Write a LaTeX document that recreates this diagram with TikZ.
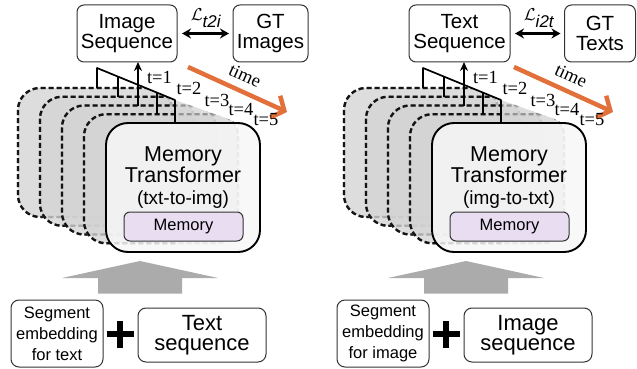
\documentclass[tikz,border=0pt]{standalone}
\usepackage{fontspec}
\setmainfont{Liberation Sans}
\newfontfamily\serifface{Liberation Serif}
\usetikzlibrary{arrows.meta}

\definecolor{timeorange}{HTML}{E2703A}
\definecolor{blockgray}{HTML}{ABABAB}
\definecolor{memfill}{HTML}{E9DDF1}
\definecolor{edgegray}{HTML}{333333}

\tikzset{
  every node/.style={inner sep=0pt, outer sep=0pt},
  labelbox/.style={draw=edgegray, line width=1pt, rounded corners=7pt, fill=white,
    align=center, minimum height=57pt, font=\fontsize{20.5}{20}\selectfont},
  inbox/.style={draw=edgegray, line width=1pt, rounded corners=8pt, fill=white, align=center},
  stackfill/.style={fill=black!17, fill opacity=0.8, rounded corners=22pt},
  stackline/.style={line width=2.3pt, dash pattern=on 5pt off 3pt, rounded corners=22pt},
  mainbox/.style={draw=black, line width=1.9pt, fill=black!3, fill opacity=0.85,
    rounded corners=22pt, minimum width=154pt, minimum height=129pt},
  memorybox/.style={draw=edgegray, line width=1pt, fill=memfill, rounded corners=6pt,
    minimum width=119pt, minimum height=29pt, font=\fontsize{16.5}{16}\selectfont},
  tickline/.style={line width=1.7pt},
  lossarrow/.style={line width=2.2pt, arrows={Stealth[length=9pt,width=10pt]-Stealth[length=9pt,width=10pt]},
    shorten <=5pt, shorten >=4pt},
  timearrow/.style={draw=timeorange, line width=4.5pt, arrows={-Straight Barb[length=10pt,width=24pt]}},
  steplabel/.style={font=\serifface\fontsize{18.5}{18}\selectfont},
  plusline/.style={line width=6.5pt},
}

% one layer of the stacked dashed frames: translucent fill, pale outline,
% and the outline drawn dark only left of #3
\newcommand\stackbox[3]{%
  \fill[stackfill] (#1,#2) rectangle ++(154,129);
  \draw[stackline, draw=black!42] (#1,#2) rectangle ++(154,129);
  \begin{scope}
    \clip (#1-5,#2-5) rectangle (#3,#2+140);
    \draw[stackline, draw=black!92] (#1,#2) rectangle ++(154,129);
  \end{scope}}

% everything below the output boxes: stack of time steps, transformer, inputs
% #1 prefix, #2 shift, #3 direction, #4 segment kind, #5 input kind
\newcommand\panelbody[5]{%
\begin{scope}[xshift=#2]
  % earlier time steps, kept below the bracket line
  \begin{scope}
    \clip (0,28) -- (175,100) -- (262,131) -- (262,300) -- (0,300) -- cycle;
    \stackbox{18}{88}{176}
    \stackbox{40}{96.75}{176}
    \stackbox{62}{105.5}{176}
    \stackbox{84}{114.25}{176}
  \end{scope}
  \node[mainbox, anchor=north west] (#1-main) at (106,123) {};
  \node[align=center, anchor=north, font=\fontsize{21.5}{21.5}\selectfont] (#1-title) at (183,146.5)
    {Memory\\Transformer\\{\fontsize{19}{21.5}\selectfont(#3)}};
  \node[memorybox] (#1-mem) at (183.5,226.5) {Memory};
  % bracket gathering the outputs of all time steps
  \coordinate (#1-b0) at (97,68);
  \coordinate (#1-b4) at (175,100);
  \draw[tickline, line cap=round] (#1-b0) -- (#1-b4);
  \foreach \tx/\ty in {97/88, 118/96.75, 157/114.25, 175/123}
    \draw[tickline] (\tx,{68+(\tx-97)*32/78}) -- (\tx,\ty);
  \coordinate (#1-up) at (138,105.5);
  \draw[tickline, -{Stealth[length=9pt,width=8pt]}] (#1-up) -- (#1-up |- #1-out.south);
  % time axis
  \coordinate (#1-ts) at (188,67);
  \coordinate (#1-te) at (287,112);
  \draw[timearrow] (#1-ts) -- (#1-te);
  \node[font=\serifface\fontsize{18.5}{18}\selectfont, rotate=-24.4] (#1-time) at (245,76) {time};
  \node[steplabel] (#1-s1) at (159.5,77) {t=1};
  \node[steplabel] (#1-s2) at (189,88) {t=2};
  \node[steplabel] (#1-s3) at (217,100) {t=3};
  \node[steplabel] (#1-s4) at (241,110) {t=4};
  \node[steplabel] (#1-s5) at (266,120) {t=5};
  % input arrow
  \fill[blockgray] (140,261) -- (218,278) -- (182,278) -- (182,293.5) -- (98,293.5)
    -- (98,278) -- (62,278) -- cycle;
  % inputs
  \node[inbox, minimum width=92pt, minimum height=67pt, font=\fontsize{16.5}{21}\selectfont]
    (#1-seg) at (57,333.5) {Segment\\embedding\\for #4};
  \coordinate (#1-plus) at (120,334);
  \draw[plusline] ([xshift=-13.5pt]#1-plus) -- ([xshift=13.5pt]#1-plus);
  \draw[plusline] ([yshift=-13.5pt]#1-plus) -- ([yshift=13.5pt]#1-plus);
  \node[inbox, minimum width=128pt, minimum height=54pt, font=\fontsize{22}{20.5}\selectfont]
    (#1-in) at (202,335) {#5\\sequence};
\end{scope}}

\begin{document}
\begin{tikzpicture}[x=1pt,y=-1pt]
\useasboundingbox (0,0) rectangle (637,369);

% outputs and ground truth
\node[labelbox, minimum width=100pt] (L-out) at (127,33.5) {Image\\Sequence};
\node[labelbox, minimum width=75pt] (L-gt) at (270.5,33.5) {GT\\Images};
\draw[lossarrow] (L-out) -- (L-gt);
\node[font=\fontsize{17}{17}\selectfont] (L-loss) at (206,18) {$\mathcal{L}_{\textit{t2i}}$};

\node[labelbox, minimum width=101pt] (R-out) at (459.5,33.5) {Text\\Sequence};
\node[labelbox, minimum width=71pt] (R-gt) at (600,33.5) {GT\\Texts};
\draw[lossarrow] (R-out) -- (R-gt);
\node[font=\fontsize{17}{17}\selectfont] (R-loss) at (539,18) {$\mathcal{L}_{\textit{i2t}}$};

\panelbody{L}{0pt}{txt-to-img}{text}{Text}
\panelbody{R}{326pt}{img-to-txt}{image}{Image}
\end{tikzpicture}
\end{document}
